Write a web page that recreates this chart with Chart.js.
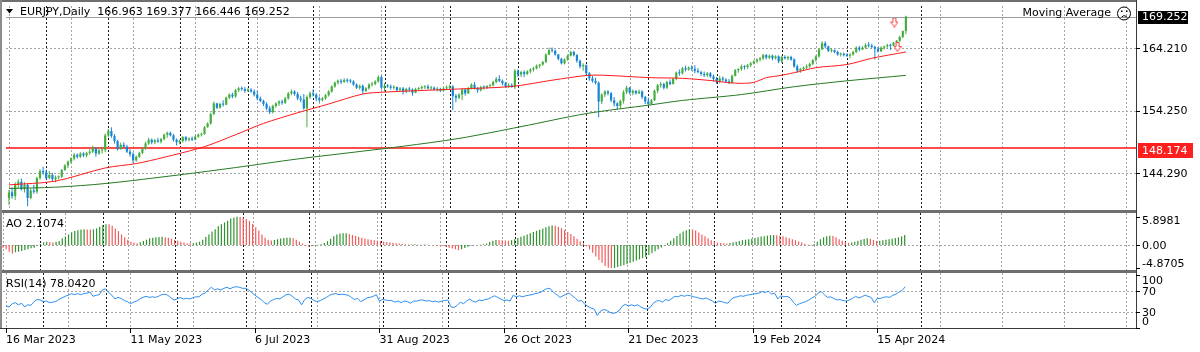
<!DOCTYPE html>
<html>
<head>
    <title>EURJPY Daily</title>
    <meta charset="utf-8">
    <style>
        body { margin: 0; background: #fff; }
        #wrap { position: relative; width: 1200px; height: 352px; }
        #wrap canvas { position: absolute; left: 0; top: 0; }
    </style>
    <script src="https://cdn.jsdelivr.net/npm/chart.js"></script>
</head>
<body>
<div id="wrap">
    <canvas id="mainChart" width="1200" height="352"></canvas>
    <canvas id="aoChart" width="1200" height="352"></canvas>
    <canvas id="rsiChart" width="1200" height="352"></canvas>
</div>
<script>
    // daily candles [open, high, low, close], 16 Mar 2023 .. 26 Apr 2024, one week per line
    const candles = [
        [140.3,141.6,139.2,141.2],[141.2,142.0,140.2,140.6],
        [140.6,142.8,140.0,142.4],[142.4,143.3,141.8,142.9],[142.9,143.4,141.5,141.7],[141.7,142.8,141.2,142.4],[142.4,142.6,139.0,140.3],
        [140.3,141.8,140.1,141.5],[141.5,142.4,141.0,141.3],[141.3,143.7,141.0,143.5],[143.5,144.9,143.2,144.6],[144.6,145.3,144.0,144.4],
        [144.4,144.8,143.2,143.5],[143.5,144.6,143.3,144.0],[144.0,144.3,143.0,143.3],[143.3,143.9,142.8,143.6],[143.6,143.9,143.3,143.7],
        [143.7,144.9,143.5,144.8],[144.8,145.7,144.6,145.5],[145.5,146.3,145.1,146.1],[146.1,146.8,145.8,146.6],[146.6,147.5,146.3,147.2],
        [147.2,147.4,146.6,146.9],[146.9,147.6,146.7,147.4],[147.4,147.6,146.8,147.1],[147.1,147.7,146.8,147.5],[147.5,148.1,147.2,147.7],
        [147.7,148.6,147.5,148.3],[148.3,148.4,146.9,147.4],[147.4,148.2,147.2,147.9],[147.9,148.5,147.4,148.0],[148.0,150.6,147.6,150.3],
        [150.3,151.3,150.0,151.0],[151.0,151.6,149.9,150.2],[150.2,150.5,149.0,149.4],[149.4,149.6,147.9,148.1],[148.1,149.1,148.0,148.8],
        [148.8,149.2,148.3,148.5],[148.5,148.8,147.5,147.7],[147.7,148.1,146.9,147.3],[147.3,147.6,145.9,146.3],[146.3,147.1,146.1,146.9],
        [146.9,147.7,146.7,147.5],[147.5,148.4,147.3,148.2],[148.2,149.3,148.0,149.0],[149.0,149.9,148.8,149.6],[149.6,149.8,148.9,149.2],
        [149.2,149.7,148.9,149.5],[149.5,149.9,149.1,149.3],[149.3,149.9,149.0,149.7],[149.7,150.6,149.5,150.4],[150.4,150.9,149.9,150.7],
        [150.7,150.9,150.1,150.3],[150.3,150.5,149.3,149.6],[149.6,149.8,148.7,149.2],[149.2,149.6,148.9,149.4],[149.4,150.2,149.1,150.0],
        [150.0,150.2,149.3,149.6],[149.6,150.0,149.3,149.8],[149.8,150.1,149.4,149.6],[149.6,150.3,149.5,150.1],[150.1,150.6,149.9,150.4],
        [150.4,150.7,150.1,150.5],[150.5,151.8,150.4,151.6],[151.6,152.4,151.5,152.2],[152.2,153.9,152.0,153.7],[153.7,155.7,153.5,155.4],
        [155.4,155.5,154.5,154.7],[154.7,155.5,154.6,155.3],[155.3,155.9,154.9,155.2],[155.2,156.5,155.1,156.3],[156.3,157.0,156.1,156.8],
        [156.8,157.1,156.2,156.5],[156.5,157.7,156.3,157.5],[157.5,158.0,157.2,157.8],[157.8,158.1,157.4,157.7],[157.7,158.0,157.1,157.4],
        [157.4,157.9,157.2,157.6],[157.6,157.8,157.1,157.3],[157.3,157.6,156.5,156.8],[156.8,157.4,155.9,156.2],[156.2,156.5,155.6,155.8],
        [155.8,156.0,155.0,155.3],[155.3,155.6,154.3,154.6],[154.6,155.0,153.7,154.0],[154.0,155.2,153.8,155.0],[155.0,155.6,154.7,155.4],
        [155.4,155.9,155.0,155.7],[155.7,156.0,155.2,155.5],[155.5,156.4,155.3,156.2],[156.2,157.2,156.0,157.0],[157.0,157.6,156.7,157.3],
        [157.3,157.5,156.6,156.9],[156.9,157.2,155.9,156.2],[156.2,156.6,155.6,156.0],[156.0,156.9,154.4,154.6],[154.6,156.7,151.6,156.4],
        [156.4,157.3,156.1,157.0],[157.0,157.6,156.5,156.8],[156.8,157.0,155.8,156.2],[156.2,156.5,155.6,155.9],[155.9,156.4,155.7,156.2],
        [156.2,156.9,156.0,156.7],[156.7,157.5,156.5,157.3],[157.3,158.3,157.1,158.1],[158.1,158.9,157.9,158.7],[158.7,159.2,158.4,159.0],
        [159.0,159.3,158.5,158.8],[158.8,159.4,158.7,159.1],[159.1,159.4,158.7,159.0],[159.0,159.3,158.6,158.9],[158.9,159.1,158.2,158.4],
        [158.4,158.6,157.7,157.9],[157.9,158.4,157.6,158.2],[158.2,158.4,156.9,157.4],[157.4,158.0,157.2,157.8],[157.8,158.6,157.6,158.4],
        [158.4,158.8,158.1,158.5],[158.5,159.1,158.3,158.9],[158.9,159.9,158.7,159.6],[159.6,159.8,157.6,157.9],[157.9,158.6,157.3,158.2],
        [158.2,158.5,157.9,158.1],[158.1,158.4,157.6,157.9],[157.9,158.3,157.6,158.0],[158.0,158.1,157.2,157.5],[157.5,158.0,157.4,157.8],
        [157.8,158.0,156.8,157.3],[157.3,157.9,157.0,157.7],[157.7,158.0,157.3,157.6],[157.6,157.8,156.6,157.1],[157.1,157.9,157.0,157.7],
        [157.7,158.0,157.5,157.8],[157.8,158.2,157.6,158.0],[158.0,158.3,157.7,158.1],[158.1,158.4,157.6,157.8],[157.8,158.2,157.5,157.9],
        [157.9,158.1,157.4,157.6],[157.6,158.0,157.3,157.7],[157.7,157.9,157.2,157.4],[157.4,158.0,157.3,157.8],[157.8,158.3,157.6,157.9],
        [157.9,158.4,157.6,158.1],[158.1,158.3,154.3,156.6],[156.6,156.9,155.6,156.3],[156.3,157.0,156.1,156.8],[156.8,157.8,155.9,157.6],
        [157.6,157.8,156.6,157.0],[157.0,158.0,156.9,157.8],[157.8,158.6,157.6,158.4],[158.4,158.8,157.6,157.8],[157.8,158.0,157.1,157.5],
        [157.5,158.2,157.3,158.0],[158.0,158.3,157.6,157.9],[157.9,158.3,157.7,158.2],[158.2,158.5,157.9,158.3],[158.3,159.0,158.1,158.8],
        [158.8,159.6,158.6,159.3],[159.3,159.9,158.8,159.0],[159.0,159.2,158.3,158.6],[158.6,158.8,157.9,158.1],[158.1,158.6,157.9,158.3],
        [158.3,158.6,157.9,158.0],[158.0,160.9,157.7,160.6],[160.6,160.8,159.6,160.0],[160.0,160.6,159.6,160.4],[160.4,160.7,159.6,160.1],
        [160.1,160.7,159.9,160.5],[160.5,161.0,160.2,160.8],[160.8,161.2,160.5,161.0],[161.0,161.6,160.8,161.4],[161.4,161.7,161.0,161.6],
        [161.6,162.2,161.4,162.0],[162.0,163.4,161.8,163.2],[163.2,164.3,163.1,163.9],[163.9,164.3,163.5,163.8],[163.8,164.0,163.0,163.2],
        [163.2,163.3,162.3,162.5],[162.5,162.7,161.6,161.8],[161.8,162.6,161.6,162.4],[162.4,163.2,162.2,163.0],[163.0,163.8,162.9,163.6],
        [163.6,163.8,162.9,163.1],[163.1,163.3,161.9,162.2],[162.2,162.4,161.0,161.3],[161.3,161.8,160.6,161.5],[161.5,161.6,159.9,160.2],
        [160.2,160.4,159.0,159.4],[159.4,159.8,158.7,159.0],[159.0,159.5,158.4,158.7],[158.7,158.9,153.2,155.7],[155.7,157.0,155.3,156.8],
        [156.8,157.5,156.4,157.3],[157.3,157.5,156.7,157.0],[157.0,157.2,155.6,155.9],[155.9,156.4,154.9,155.4],[155.4,155.6,154.4,155.0],
        [155.0,156.0,154.5,155.8],[155.8,157.5,155.4,157.2],[157.2,158.2,156.9,157.9],[157.9,158.0,156.8,157.1],[157.1,157.6,156.7,157.4],
        [157.4,157.5,156.8,157.0],[157.0,157.6,156.9,157.3],[157.3,157.5,156.1,156.4],[156.4,156.6,155.3,155.7],
        [155.7,156.3,155.0,155.3],[155.3,156.1,155.2,155.9],[155.9,157.6,155.8,157.4],[157.4,158.5,157.0,158.3],
        [158.3,158.8,157.9,158.5],[158.5,158.7,157.6,157.9],[157.9,159.0,157.7,158.8],[158.8,159.2,158.3,158.5],[158.5,159.5,158.4,159.3],
        [159.3,160.5,159.1,160.3],[160.3,160.8,159.8,160.2],[160.2,161.2,160.0,161.0],[161.0,161.4,160.5,160.8],[160.8,161.3,160.6,161.1],
        [161.1,161.5,160.6,160.9],[160.9,161.5,160.2,160.6],[160.6,161.0,160.2,160.4],[160.4,160.6,159.8,160.1],[160.1,160.5,159.6,159.9],
        [159.9,160.4,159.6,160.2],[160.2,160.4,159.5,159.7],[159.7,160.0,158.9,159.3],[159.3,159.6,158.5,158.8],[158.8,159.8,158.6,159.4],
        [159.4,159.7,158.9,159.2],[159.2,159.4,158.7,158.9],[158.9,159.3,158.5,158.7],[158.7,160.0,158.6,159.8],[159.8,160.9,159.7,160.7],
        [160.7,161.0,160.3,160.9],[160.9,161.6,160.6,161.3],[161.3,161.5,160.8,161.2],[161.2,161.7,160.9,161.5],[161.5,162.0,161.2,161.8],
        [161.8,162.3,161.6,162.1],[162.1,162.6,161.8,162.4],[162.4,162.8,162.1,162.6],[162.6,163.3,162.3,163.1],[163.1,163.3,162.4,162.7],
        [162.7,163.2,162.5,163.0],[163.0,163.2,162.3,162.6],[162.6,163.1,162.4,162.9],[162.9,163.1,161.8,162.1],[162.1,163.0,161.9,162.8],
        [162.8,163.1,162.4,162.6],[162.6,163.0,162.3,162.8],[162.8,163.0,162.2,162.4],[162.4,162.6,161.1,161.3],[161.3,161.6,160.3,160.6],
        [160.6,161.1,160.3,160.9],[160.9,161.3,160.6,161.1],[161.1,161.6,160.9,161.3],[161.3,161.9,161.1,161.7],[161.7,162.5,161.5,162.3],
        [162.3,163.1,162.1,162.9],[162.9,164.2,162.7,164.0],[164.0,165.3,163.9,165.0],[165.0,165.3,164.2,164.5],[164.5,164.6,163.6,163.8],
        [163.8,164.2,163.5,163.9],[163.9,164.0,163.4,163.6],[163.6,163.8,163.0,163.2],[163.2,163.5,162.9,163.3],[163.3,163.5,162.9,163.1],
        [163.1,163.4,162.8,163.0],[163.0,163.4,162.6,163.2],[163.2,163.8,163.0,163.6],[163.6,164.5,163.4,164.3],[164.3,164.6,163.7,164.0],
        [164.0,164.5,163.9,164.3],[164.3,165.0,164.1,164.7],[164.7,165.2,164.3,164.6],[164.6,164.9,164.2,164.4],[164.4,164.6,162.4,164.1],
        [164.1,164.4,163.5,163.7],[163.7,164.5,163.6,164.3],[164.3,164.6,164.0,164.5],[164.5,164.9,164.2,164.7],[164.7,164.9,163.9,164.6],
        [164.6,165.2,164.5,165.1],[165.1,165.5,164.9,165.4],[165.4,166.2,165.2,166.0],[166.0,167.0,165.8,166.963],[166.963,169.377,166.446,169.252]
    ];

    // Awesome Oscillator, one value per candle
    const ao = [
        -0.55,-0.9,-1.4,-1.75,-1.5,-1.4,-1.25,-1.05,-0.9,-0.7,
        -0.55,-0.15,0.2,0.55,0.7,0.55,0.5,0.7,0.85,1.4,
        1.75,2.2,2.65,2.9,3.1,3.25,3.3,3.25,3.2,3.25,
        3.45,3.8,4.15,4.35,4.3,4.0,3.45,2.9,2.2,1.6,
        1.1,0.7,0.5,0.35,0.55,0.85,1.1,1.4,1.5,1.6,
        1.65,1.7,1.6,1.5,1.3,1.1,0.9,0.7,0.5,0.35,
        0.3,0.35,0.5,0.7,1.1,1.65,2.2,2.8,3.3,3.9,
        4.3,4.7,5.05,5.5,5.75,5.9,5.85,5.7,5.4,5.0,
        4.4,3.7,3.0,2.2,1.5,1.1,0.95,1.05,1.2,1.35,
        1.45,1.5,1.52,1.4,1.1,0.7,0.3,-0.2,-0.35,-0.25,
        -0.1,0.05,0.15,0.4,0.8,1.3,1.8,2.2,2.4,2.45,
        2.47,2.3,2.1,1.9,1.7,1.5,1.35,1.2,1.1,1.0,
        0.9,0.8,0.7,0.6,0.5,0.45,0.35,0.3,0.2,0.15,
        0.1,0.12,0.15,0.1,0.05,0.1,0.05,0.0,-0.05,0.0,
        -0.1,-0.2,-0.35,-0.55,-0.75,-0.9,-1.05,-0.9,-0.6,-0.35,
        -0.15,-0.05,0.0,0.05,0.15,0.3,0.6,0.9,1.05,1.03,
        1.0,0.95,0.9,1.0,1.2,1.45,1.7,1.95,2.2,2.45,
        2.7,2.95,3.2,3.45,3.7,3.9,4.05,4.0,3.8,3.5,
        3.1,2.7,2.3,1.8,1.3,0.8,0.3,-0.3,-0.9,-1.6,
        -2.4,-3.1,-3.7,-4.4,-4.75,-4.87,-4.8,-4.6,-4.4,-4.2,
        -4.0,-3.75,-3.5,-3.25,-3.0,-2.75,-2.5,-2.1,-1.7,-1.3,
        -0.9,-0.5,-0.1,0.4,0.9,1.4,1.9,2.4,2.8,3.1,
        3.3,3.25,3.0,2.6,2.2,1.8,1.4,1.0,0.7,0.5,
        0.4,0.35,0.3,0.4,0.55,0.7,0.85,1.0,1.1,1.2,
        1.3,1.45,1.6,1.75,1.85,1.95,2.05,2.1,2.05,1.95,
        1.8,1.6,1.4,1.2,1.0,0.75,0.5,0.25,0.05,-0.1,
        0.2,0.7,1.2,1.6,1.85,1.95,1.9,1.6,1.2,0.9,
        0.6,0.45,0.5,0.7,0.9,1.1,1.25,1.4,1.3,1.05,
        0.85,0.9,1.0,1.1,1.2,1.3,1.45,1.6,1.8,2.1074
    ];

    // RSI(14), one value per candle
    const rsi = [
        42,40,46,48,44,47,40,44,43,50, 54,53,50,51,48,49,50,54,57,60,
        62,65,63,65,63,65,66,68,60,62, 63,72,74,67,62,55,58,56,52,50,
        46,49,51,55,58,60,58,59,58,60, 63,64,62,57,53,55,58,55,56,55,
        57,59,59,64,66,72,77,72,74,72, 75,77,74,77,78,77,75,75,72,67,
        62,58,54,48,45,51,54,56,55,59, 63,64,60,55,53,44,54,58,56,52,
        50,52,55,58,62,64,65,63,64,63, 62,58,54,56,50,53,57,58,60,63,
        51,54,53,52,52,49,51,48,51,50, 47,51,51,53,53,51,52,50,51,49,
        51,52,53,40,39,43,49,46,51,55, 51,49,53,52,54,55,58,61,58,55,
        52,53,51,62,59,61,59,61,62,63, 65,66,68,72,75,74,67,63,58,61,
        64,66,61,56,51,52,45,41,38,36, 24,32,35,34,30,28,29,33,41,45,
        42,44,42,44,40,37,36,39,47,51, 52,49,54,52,56,60,59,62,60,62,
        61,59,58,56,55,57,54,51,47,51, 50,48,47,54,58,59,61,60,62,63,
        64,65,66,69,67,70,64,66,55,61, 59,60,57,49,43,46,48,50,53,57,
        60,66,69,63,58,59,56,53,54,52, 51,53,56,60,57,59,62,60,58,48,
        56,56,58,59,58,62,64,68,71,78.042
    ];

    // moving averages (bar index -> price)
    const ma50Bars = [0,15,31,41,50,63,73,82,93,103,114,121,135,145,162,175,186,191,207,217,227,232,236,240,244,248,253,260,270,278,289];
    const ma50 = [142.4,143.0,145.1,145.8,146.8,148.5,150.4,152.2,153.9,155.3,156.9,157.2,157.5,157.7,158.1,159.1,159.85,159.9,159.5,159.4,159.0,158.7,158.6,158.75,159.5,159.8,160.3,161.1,161.6,162.6,163.6];
    const ma200Bars = [0,15,31,55,73,93,114,127,145,165,186,207,217,236,253,270,289];
    const ma200 = [141.83,142.03,142.61,144.0,145.16,146.53,147.78,148.56,149.81,151.69,153.77,155.18,155.87,156.81,158.06,159.0,159.87];

    const signalBars = [285.3, 286.3];
    const signalPrices = [168.3, 164.4];

    const lastPrice = 169.252;
    const levelPrice = 148.174;
    const priceTicks = [164.210, 154.250, 144.290];
    const aoTicks = [5.8981, 0, -4.8705];
    const rsiTicks = [100, 70, 30, 0];
    const rsiLevels = [70, 30];

    const gridBars = [0,20,40,60,80,100,120,140,160,180,200,220,240,260,280,300,320,340,360];
    const monthStarts = [12,32,55,77,98,121,142,164,186,206,228,249,270,294];
    const dateBars = [0,40,80,120,160,200,240,280];
    const dateLabels = ['16 Mar 2023','11 May 2023','6 Jul 2023','31 Aug 2023','26 Oct 2023','21 Dec 2023','19 Feb 2024','15 Apr 2024'];

    const X_MIN = -0.96, X_MAX = 363.14;
    const FONT = '11px "DejaVu Sans"';
    const BULL = '#45ad3f', BEAR = '#1785d4';

    Chart.defaults.font.family = 'DejaVu Sans';
    Chart.defaults.font.size = 11;
    Chart.defaults.color = '#000';

    const crisp = v => Math.round(v) + 0.5;
    function line(ctx, x1, y1, x2, y2) {
        ctx.beginPath(); ctx.moveTo(x1, y1); ctx.lineTo(x2, y2); ctx.stroke();
    }

    // dotted grid + month separators, shared by the three panes
    const gridPlugin = {
        id: 'mtGrid',
        beforeDatasetsDraw(chart, args, opts) {
            const {ctx, chartArea: a, scales: {x, y}} = chart;
            ctx.save();
            ctx.lineWidth = 1;
            ctx.setLineDash([2, 2]);
            ctx.strokeStyle = '#a3a3a3';
            (opts.levels || []).forEach(v => {
                const py = crisp(y.getPixelForValue(v));
                line(ctx, a.left, py, a.right, py);
            });
            gridBars.forEach(i => {
                const px = crisp(x.getPixelForValue(i));
                line(ctx, px, a.top, px, a.bottom);
            });
            ctx.strokeStyle = '#1a1a1a';
            monthStarts.forEach(i => {
                const px = crisp(x.getPixelForValue(i));
                line(ctx, px, a.top, px, a.bottom);
            });
            ctx.restore();
        }
    };

    function drawRightLabels(ctx, a, scale, values, fmt) {
        ctx.save();
        ctx.font = FONT;
        ctx.fillStyle = '#000';
        ctx.strokeStyle = '#000';
        ctx.lineWidth = 1;
        ctx.textAlign = 'left';
        ctx.textBaseline = 'middle';
        values.forEach(v => {
            const py = scale.getPixelForValue(v);
            const cy = Math.min(Math.max(py + 1, a.top + 8.5), a.bottom - 6);
            line(ctx, a.right, crisp(py), a.right + 4, crisp(py));
            ctx.fillText(fmt(v), a.right + 6, cy);
        });
        ctx.restore();
    }

    function drawTitle(ctx, text, x, y) {
        ctx.save();
        ctx.font = FONT;
        ctx.fillStyle = '#000';
        ctx.textAlign = 'left';
        ctx.textBaseline = 'middle';
        ctx.fillText(text, x, y);
        ctx.restore();
    }

    const mainDecor = {
        id: 'mainDecor',
        beforeDatasetsDraw(chart) {
            const {ctx, chartArea: a, scales: {y}} = chart;
            ctx.save();
            ctx.strokeStyle = '#9c9c9c';
            ctx.lineWidth = 1;
            const lp = crisp(y.getPixelForValue(lastPrice));
            line(ctx, a.left, lp, a.right, lp);
            ctx.strokeStyle = '#ff4d4d';
            ctx.lineWidth = 2;
            const hp = Math.floor(y.getPixelForValue(levelPrice));
            line(ctx, a.left, hp, a.right, hp);
            ctx.restore();
        },
        afterDraw(chart) {
            const {ctx, chartArea: a, scales: {y}} = chart;
            ctx.save();
            // window frame and pane separators
            ctx.fillStyle = '#6f6f6f';
            ctx.fillRect(0, 0, a.right + 1, 2);
            ctx.fillRect(0, 210, a.right + 1, 3);
            ctx.fillRect(0, 270, a.right + 1, 3);
            ctx.fillStyle = '#8c8c8c';
            ctx.fillRect(0, 0, 2, 329);
            ctx.fillStyle = '#3a3a3a';
            ctx.fillRect(a.right, 0, 1, 329);
            ctx.fillRect(0, 328, a.right + 1, 1);

            // title
            ctx.fillStyle = '#000';
            ctx.beginPath();
            ctx.moveTo(6, 9); ctx.lineTo(13, 9); ctx.lineTo(9.5, 13.5); ctx.closePath();
            ctx.fill();
            const k = candles[candles.length - 1];
            drawTitle(ctx, 'EURJPY,Daily  ' + k.map(v => v.toFixed(3)).join(' '), 20, 12.5);

            // expert label with sad face
            ctx.font = FONT;
            ctx.textAlign = 'right';
            ctx.textBaseline = 'middle';
            ctx.fillText('Moving Average', 1111, 13.5);
            ctx.strokeStyle = '#000';
            ctx.lineWidth = 1;
            ctx.beginPath(); ctx.arc(1124, 13.5, 6.5, 0, Math.PI * 2); ctx.stroke();
            ctx.fillRect(1121, 10.5, 1.5, 1.5);
            ctx.fillRect(1126, 10.5, 1.5, 1.5);
            ctx.beginPath(); ctx.arc(1124.3, 19.2, 3.4, 1.2 * Math.PI, 1.8 * Math.PI); ctx.stroke();

            drawRightLabels(ctx, a, y, priceTicks, v => v.toFixed(3));

            // price boxes
            const lp = y.getPixelForValue(lastPrice);
            ctx.fillStyle = '#000';
            ctx.fillRect(a.right + 2, Math.round(lp) - 6, 50, 13);
            ctx.fillStyle = '#fff';
            ctx.textAlign = 'left';
            ctx.fillText(lastPrice.toFixed(3), a.right + 6, lp + 1);
            const hp = y.getPixelForValue(levelPrice);
            ctx.fillStyle = '#ff1f1f';
            ctx.fillRect(a.right + 2, Math.round(hp) - 6, 55, 15);
            ctx.fillStyle = '#fff';
            ctx.fillText(levelPrice.toFixed(3), a.right + 6, hp + 2);
            ctx.restore();
        }
    };

    const aoDecor = {
        id: 'aoDecor',
        afterDraw(chart) {
            const {ctx, chartArea: a, scales: {y}} = chart;
            drawRightLabels(ctx, a, y, aoTicks, v => v === 0 ? '0.00' : v.toFixed(4));
            drawTitle(ctx, 'AO ' + ao[ao.length - 1].toFixed(4), 6, 224);
        }
    };

    const rsiDecor = {
        id: 'rsiDecor',
        afterDraw(chart) {
            const {ctx, chartArea: a, scales: {x, y}} = chart;
            drawRightLabels(ctx, a, y, rsiTicks, v => String(v));
            drawTitle(ctx, 'RSI(14) ' + rsi[rsi.length - 1].toFixed(4), 6, 284);
            ctx.save();
            ctx.strokeStyle = '#000';
            ctx.lineWidth = 1;
            dateBars.forEach(i => {
                const px = crisp(x.getPixelForValue(i));
                line(ctx, px, a.bottom, px, a.bottom + 5);
            });
            ctx.restore();
        }
    };

    // arrow marker for the expert signals
    const arrowImg = document.createElement('canvas');
    arrowImg.width = 8; arrowImg.height = 10;
    (function () {
        const c = arrowImg.getContext('2d');
        c.strokeStyle = '#ff3b3b'; c.fillStyle = '#fff'; c.lineWidth = 1;
        c.beginPath();
        c.moveTo(2.5, 0.5); c.lineTo(5.5, 0.5); c.lineTo(5.5, 4.5); c.lineTo(7.5, 4.5);
        c.lineTo(4, 9.5); c.lineTo(0.5, 4.5); c.lineTo(2.5, 4.5); c.closePath();
        c.fill(); c.stroke();
    })();

    const candleColors = candles.map(k => k[3] >= k[0] ? BULL : BEAR);
    const aoColors = ao.map((v, i) => (i > 0 && v > ao[i - 1]) ? '#2f922f' : '#f25c5c');

    const baseOptions = (padding, yMin, yMax, plugins) => ({
        responsive: false,
        devicePixelRatio: 1,
        animation: false,
        events: [],
        layout: { padding: padding },
        plugins: Object.assign({ legend: { display: false }, tooltip: { enabled: false } }, plugins),
        scales: {
            x: { type: 'linear', min: X_MIN, max: X_MAX, offset: false, bounds: 'data', display: false },
            y: { type: 'linear', min: yMin, max: yMax, display: false }
        }
    });

    new Chart(document.getElementById('mainChart'), {
        type: 'bar',
        data: {
            datasets: [
                {
                    type: 'line', order: -1, showLine: false,
                    data: signalBars.map((b, j) => ({x: b, y: signalPrices[j]})),
                    pointStyle: arrowImg, pointRadius: 5
                },
                {
                    type: 'line', order: 0,
                    data: ma50Bars.map((b, j) => ({x: b, y: ma50[j]})),
                    borderColor: '#ff1a1a', borderWidth: 1, pointRadius: 0, tension: 0.3
                },
                {
                    type: 'line', order: 0,
                    data: ma200Bars.map((b, j) => ({x: b, y: ma200[j]})),
                    borderColor: '#237a23', borderWidth: 1, pointRadius: 0, tension: 0.3
                },
                {
                    order: 1, grouped: false, barThickness: 2.2, minBarLength: 1, inflateAmount: 0, borderWidth: 0,
                    data: candles.map((k, i) => ({x: i, y: [k[0], k[3]]})),
                    backgroundColor: candleColors
                },
                {
                    order: 2, grouped: false, barThickness: 1, minBarLength: 1, inflateAmount: 0, borderWidth: 0,
                    data: candles.map((k, i) => ({x: i, y: [k[2], k[1]]})),
                    backgroundColor: candleColors
                }
            ]
        },
        options: baseOptions({left: 0, right: 64, top: 2, bottom: 142}, 138.389, 164.21 + 43 / 6.39,
            { mtGrid: { levels: priceTicks } }),
        plugins: [gridPlugin, mainDecor]
    });

    new Chart(document.getElementById('aoChart'), {
        type: 'bar',
        data: {
            datasets: [{
                grouped: false, barThickness: 1.2, inflateAmount: 0, borderWidth: 0,
                data: ao.map((v, i) => ({x: i, y: v})),
                backgroundColor: aoColors
            }]
        },
        options: baseOptions({left: 0, right: 64, top: 213, bottom: 82}, -5.21, 6.67,
            { mtGrid: { levels: [0] } }),
        plugins: [gridPlugin, aoDecor]
    });

    const rsiOptions = baseOptions({left: 0, right: 64, top: 273, bottom: 0}, 0.4, 103.8,
        { mtGrid: { levels: rsiLevels } });
    rsiOptions.scales.x = {
        type: 'linear', min: X_MIN, max: X_MAX, offset: false, bounds: 'data',
        afterBuildTicks: s => { s.ticks = dateBars.map(v => ({value: v})); },
        afterFit: s => { s.height = 24; },
        grid: { display: false, drawTicks: false },
        border: { display: false },
        ticks: {
            autoSkip: false, maxRotation: 0, minRotation: 0, align: 'start', padding: 6, color: '#000',
            font: { family: 'DejaVu Sans', size: 11 },
            callback: (v, idx) => dateLabels[idx]
        }
    };

    new Chart(document.getElementById('rsiChart'), {
        type: 'line',
        data: {
            datasets: [{
                data: rsi.map((v, i) => ({x: i, y: v})),
                borderColor: '#2b8ff0', borderWidth: 1, pointRadius: 0, tension: 0
            }]
        },
        options: rsiOptions,
        plugins: [gridPlugin, rsiDecor]
    });
</script>
</body>
</html>
